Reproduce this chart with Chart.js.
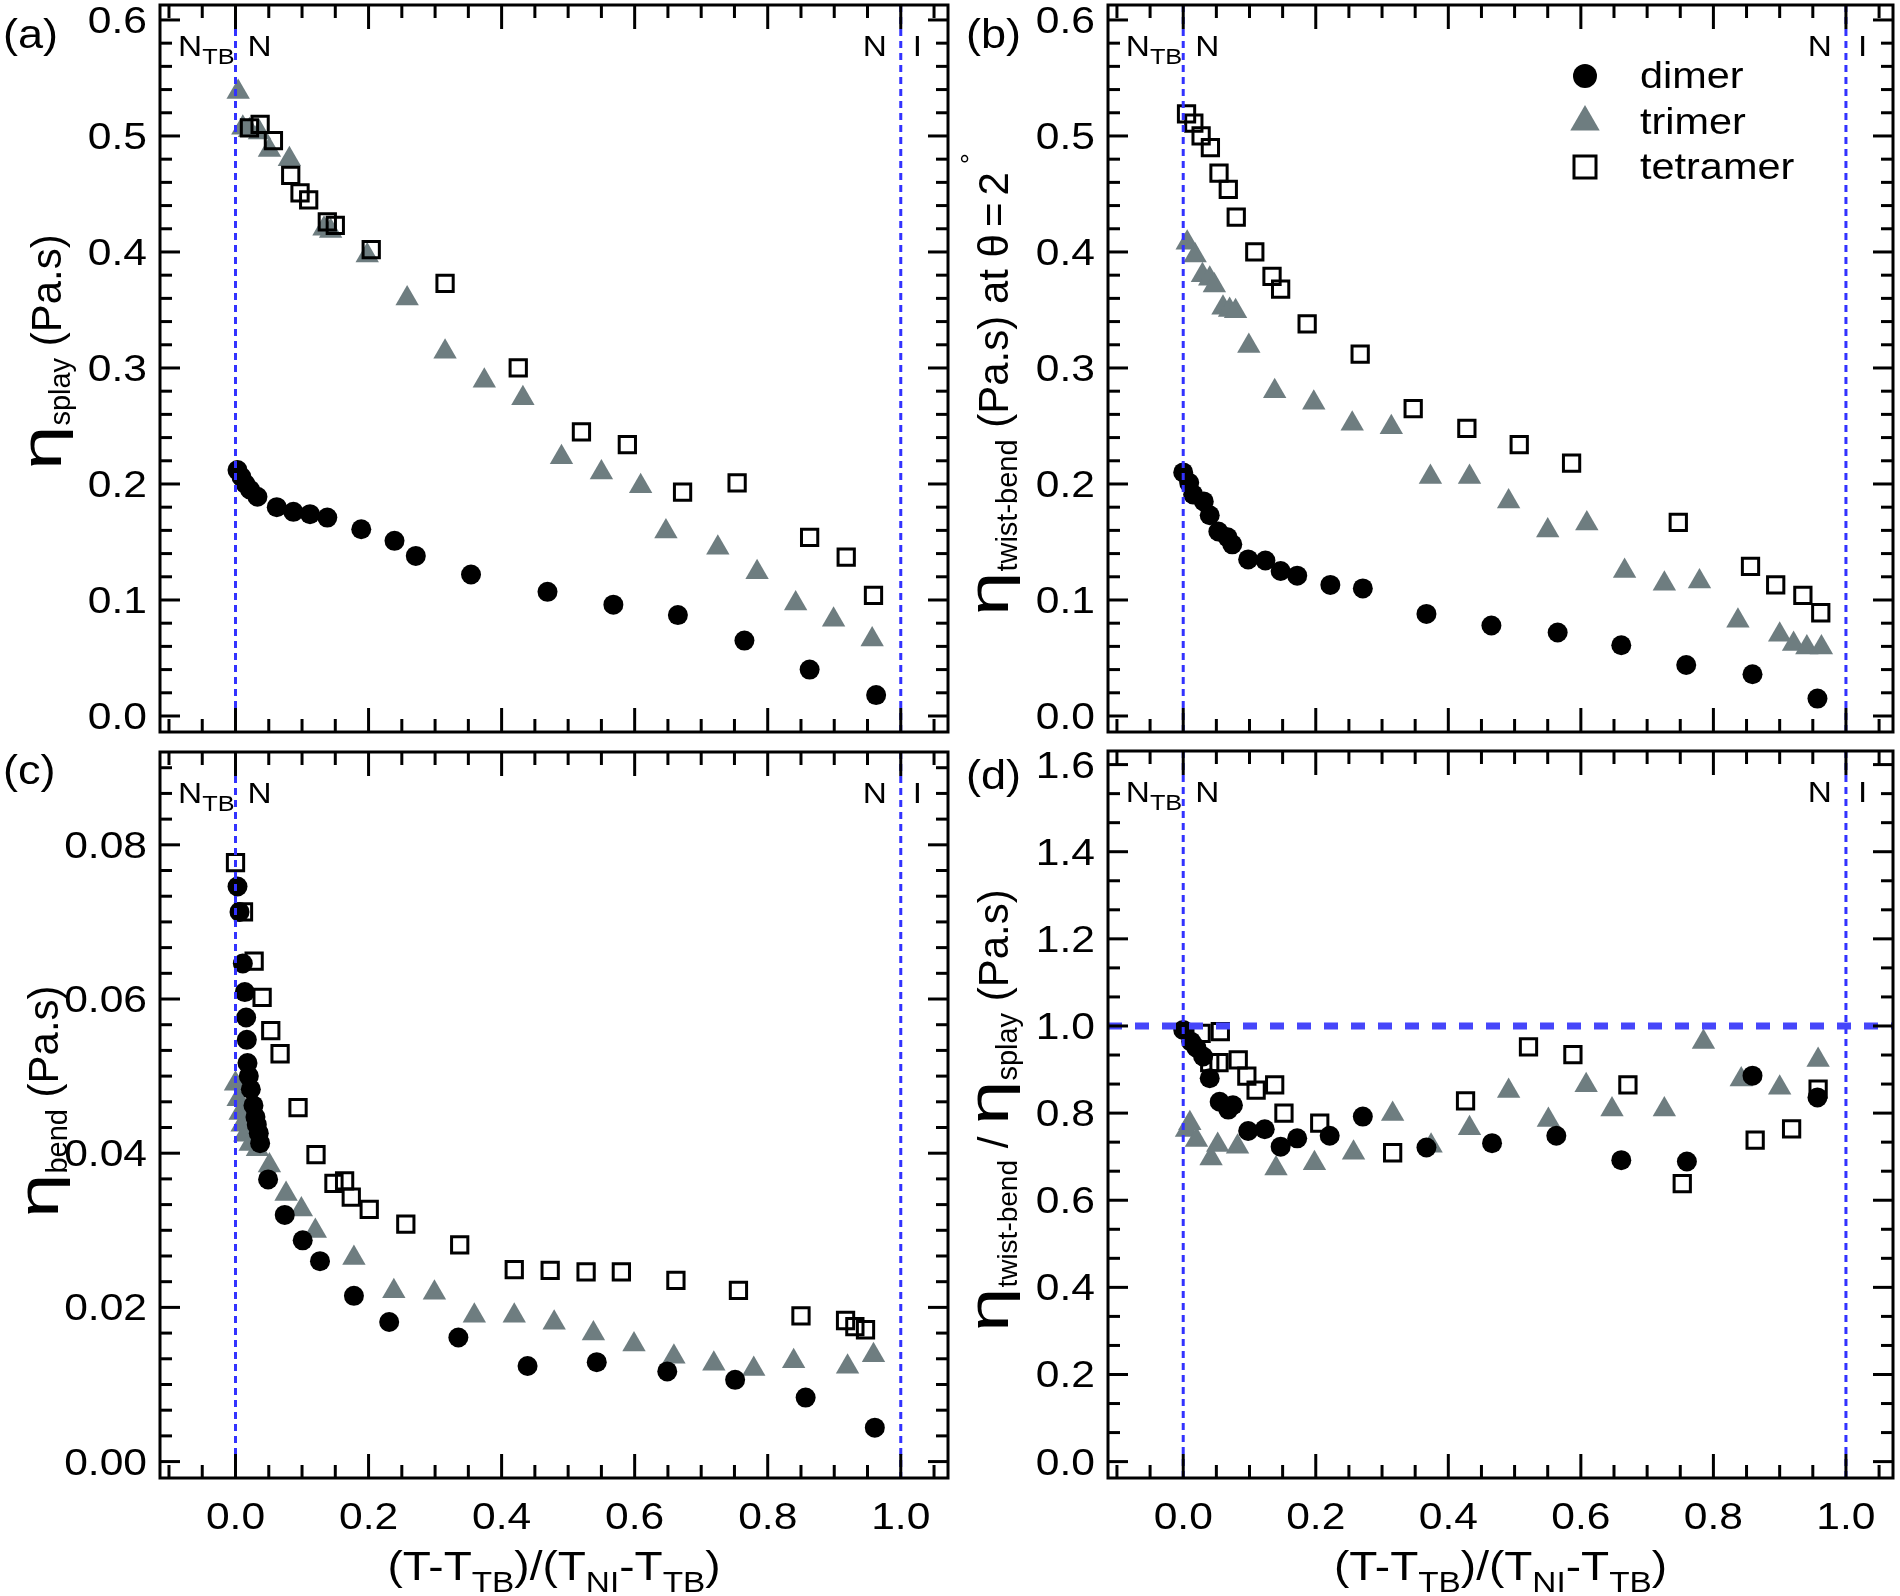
<!DOCTYPE html>
<html>
<head>
<meta charset="utf-8">
<script src="https://cdn.jsdelivr.net/npm/chart.js@4.4.1/dist/chart.umd.min.js"></script>
<style>
  html, body { margin: 0; padding: 0; background: #fff; }
  #wrap { position: relative; width: 1900px; height: 1596px; }
  #wrap canvas { position: absolute; left: 0; top: 0; }
</style>
</head>
<body>
<div id="wrap">
  <canvas id="splay" width="1900" height="1596"></canvas>
  <canvas id="twist" width="1900" height="1596"></canvas>
  <canvas id="bend" width="1900" height="1596"></canvas>
  <canvas id="ratio" width="1900" height="1596"></canvas>
</div>
<script>
var FONT = '"Liberation Sans", Arial, sans-serif';
var GREY = '#6e7d80';
var BLUE = 'rgb(50,50,255)';

// reduced temperature axis, shared by all four panels
var xLabels = [0, 0.2, 0.4, 0.6, 0.8, 1.0];
var seriesNames = ['dimer', 'trimer', 'tetramer'];

var splayTicks = [0, 0.1, 0.2, 0.3, 0.4, 0.5, 0.6];
var twistTicks = [0, 0.1, 0.2, 0.3, 0.4, 0.5, 0.6];
var bendTicks = [0, 0.02, 0.04, 0.06, 0.08];
var ratioTicks = [0, 0.2, 0.4, 0.6, 0.8, 1.0, 1.2, 1.4, 1.6];

// (a) splay viscosity
var splayDimer = [[0.003,0.212],[0.009,0.206],[0.015,0.200],[0.022,0.195],[0.033,0.189],[0.062,0.180],[0.087,0.176],[0.112,0.174],[0.138,0.171],[0.189,0.161],[0.239,0.151],[0.271,0.138],[0.354,0.122],[0.469,0.107],[0.568,0.096],[0.665,0.087],[0.765,0.065],[0.863,0.040],[0.963,0.018]];
var splayTrimer = [[0.004,0.538],[0.011,0.507],[0.021,0.505],[0.036,0.503],[0.051,0.488],[0.081,0.480],[0.133,0.420],[0.143,0.418],[0.198,0.397],[0.258,0.360],[0.315,0.314],[0.374,0.289],[0.432,0.274],[0.490,0.223],[0.550,0.210],[0.609,0.198],[0.647,0.159],[0.725,0.145],[0.784,0.124],[0.842,0.097],[0.899,0.083],[0.957,0.066]];
var splayTetramer = [[0.021,0.507],[0.037,0.510],[0.057,0.496],[0.083,0.466],[0.097,0.451],[0.110,0.445],[0.138,0.426],[0.150,0.423],[0.204,0.402],[0.315,0.373],[0.425,0.300],[0.520,0.245],[0.589,0.234],[0.672,0.193],[0.754,0.201],[0.863,0.154],[0.918,0.137],[0.959,0.104]];

// (b) twist-bend viscosity at theta = 2 deg
var twistDimer = [[0.000,0.210],[0.009,0.201],[0.015,0.191],[0.031,0.185],[0.040,0.173],[0.053,0.159],[0.067,0.154],[0.074,0.148],[0.098,0.135],[0.124,0.134],[0.147,0.125],[0.172,0.121],[0.222,0.113],[0.271,0.110],[0.367,0.088],[0.465,0.078],[0.565,0.072],[0.661,0.061],[0.759,0.044],[0.859,0.036],[0.957,0.015]];
var twistTrimer = [[0.006,0.408],[0.018,0.397],[0.029,0.380],[0.040,0.377],[0.047,0.371],[0.060,0.352],[0.070,0.350],[0.079,0.349],[0.099,0.319],[0.138,0.280],[0.197,0.270],[0.255,0.252],[0.314,0.249],[0.373,0.206],[0.432,0.206],[0.491,0.185],[0.550,0.160],[0.609,0.166],[0.666,0.125],[0.726,0.114],[0.779,0.116],[0.837,0.082],[0.900,0.070],[0.921,0.062],[0.941,0.059],[0.963,0.059]];
var twistTetramer = [[0.005,0.519],[0.016,0.511],[0.027,0.500],[0.041,0.490],[0.054,0.468],[0.068,0.454],[0.080,0.430],[0.108,0.400],[0.134,0.379],[0.147,0.368],[0.187,0.338],[0.267,0.312],[0.347,0.265],[0.428,0.248],[0.507,0.234],[0.586,0.218],[0.747,0.167],[0.856,0.129],[0.894,0.113],[0.935,0.104],[0.962,0.089]];

// (c) bend viscosity
var bendDimer = [[0.003,0.0746],[0.006,0.0713],[0.011,0.0646],[0.014,0.0609],[0.016,0.0576],[0.017,0.0547],[0.018,0.0517],[0.020,0.0500],[0.023,0.0483],[0.027,0.0462],[0.030,0.0447],[0.032,0.0437],[0.035,0.0426],[0.037,0.0413],[0.049,0.0366],[0.074,0.0320],[0.101,0.0287],[0.127,0.0260],[0.178,0.0215],[0.231,0.0181],[0.335,0.0161],[0.439,0.0124],[0.543,0.0129],[0.649,0.0117],[0.751,0.0106],[0.857,0.0083],[0.961,0.0044]];
var bendTrimer = [[0.000,0.0490],[0.004,0.0470],[0.007,0.0452],[0.010,0.0437],[0.014,0.0424],[0.022,0.0412],[0.033,0.0405],[0.051,0.0384],[0.076,0.0347],[0.099,0.0327],[0.120,0.0299],[0.178,0.0264],[0.238,0.0221],[0.299,0.0219],[0.359,0.0189],[0.419,0.0189],[0.479,0.0180],[0.538,0.0166],[0.599,0.0152],[0.659,0.0136],[0.719,0.0127],[0.779,0.0120],[0.839,0.0130],[0.920,0.0123],[0.959,0.0138]];
var bendTetramer = [[0.000,0.0777],[0.012,0.0713],[0.028,0.0649],[0.040,0.0602],[0.053,0.0559],[0.067,0.0529],[0.094,0.0459],[0.121,0.0398],[0.148,0.0361],[0.164,0.0364],[0.174,0.0343],[0.201,0.0327],[0.256,0.0308],[0.337,0.0281],[0.419,0.0249],[0.473,0.0248],[0.527,0.0246],[0.580,0.0246],[0.662,0.0235],[0.756,0.0222],[0.850,0.0189],[0.917,0.0183],[0.931,0.0175],[0.947,0.0171]];

// (d) ratio twist-bend / splay
var ratioDimer = [[0.000,0.991],[0.012,0.964],[0.020,0.950],[0.030,0.930],[0.040,0.880],[0.055,0.826],[0.068,0.808],[0.075,0.818],[0.098,0.759],[0.123,0.763],[0.147,0.723],[0.172,0.742],[0.221,0.748],[0.271,0.792],[0.367,0.721],[0.466,0.731],[0.563,0.748],[0.661,0.692],[0.760,0.689],[0.859,0.886],[0.957,0.836]];
var ratioTrimer = [[0.005,0.761],[0.010,0.777],[0.020,0.738],[0.042,0.696],[0.052,0.727],[0.082,0.723],[0.140,0.673],[0.198,0.685],[0.257,0.709],[0.316,0.798],[0.374,0.725],[0.432,0.765],[0.491,0.851],[0.551,0.784],[0.608,0.864],[0.647,0.808],[0.726,0.808],[0.785,0.963],[0.842,0.877],[0.900,0.858],[0.958,0.922]];
var ratioTetramer = [[0.027,0.983],[0.056,0.987],[0.040,0.916],[0.054,0.916],[0.083,0.922],[0.096,0.885],[0.110,0.853],[0.138,0.865],[0.152,0.800],[0.206,0.777],[0.316,0.709],[0.426,0.828],[0.521,0.952],[0.588,0.934],[0.671,0.865],[0.753,0.638],[0.863,0.738],[0.918,0.764],[0.958,0.855]];

var ETA = { t: 'η', size: 57, sx: 1.4 };

var panels = {
  splay: {
    letter: '(a)', letterPos: [3, 48],
    area: { left: 160, top: 5, right: 948, bottom: 732 },
    yMin: -0.0138, yMax: 0.6129, yTicks: splayTicks, yDigits: 1, yStep: 0.02, yRatio: 5,
    series: [splayDimer, splayTrimer, splayTetramer],
    title: [ETA, { t: 'splay', size: 29, dy: 9 }, { t: ' (Pa.s)', size: 42 }], titlePos: [61, 470]
  },
  twist: {
    letter: '(b)', letterPos: [966, 48],
    area: { left: 1108, top: 5, right: 1893, bottom: 732 },
    yMin: -0.0138, yMax: 0.6129, yTicks: twistTicks, yDigits: 1, yStep: 0.02, yRatio: 5,
    series: [twistDimer, twistTrimer, twistTetramer],
    title: [ETA, { t: 'twist-bend', size: 29, dy: 9 }, { t: ' (Pa.s) at ', size: 42 },
            { t: 'θ', size: 42, gap: 7 }, { t: '=', size: 42, gap: 7 }, { t: '2', size: 42 },
            { t: '°', size: 28, dy: -28, dx: 8 }],
    titlePos: [1008, 616], legend: true
  },
  bend: {
    letter: '(c)', letterPos: [3, 784],
    area: { left: 160, top: 752, right: 948, bottom: 1478 },
    yMin: -0.00213, yMax: 0.09204, yTicks: bendTicks, yDigits: 2, yStep: 0.02 / 6, yRatio: 6,
    series: [bendDimer, bendTrimer, bendTetramer],
    title: [ETA, { t: 'bend', size: 29, dy: 9 }, { t: ' (Pa.s)', size: 42 }], titlePos: [58, 1218],
    xAxis: true
  },
  ratio: {
    letter: '(d)', letterPos: [966, 789],
    area: { left: 1108, top: 751, right: 1893, bottom: 1478 },
    yMin: -0.0376, yMax: 1.6312, yTicks: ratioTicks, yDigits: 1, yStep: 0.2 / 3, yRatio: 3,
    series: [ratioDimer, ratioTrimer, ratioTetramer],
    title: [ETA, { t: 'twist-bend', size: 28, dy: 9 }, { t: ' / ', size: 42 }, ETA,
            { t: 'splay', size: 29, dy: 9 }, { t: ' (Pa.s)', size: 42 }],
    titlePos: [1008, 1332], xAxis: true, refLine: 1.0
  }
};

// text with sub/superscripts, optionally rotated and stretched
function drawRich(ctx, parts, x, y, opt) {
  opt = opt || {};
  ctx.save();
  ctx.translate(x, y);
  if (opt.rotate) ctx.rotate(opt.rotate);
  ctx.scale(opt.sx || 1, 1);
  ctx.textAlign = 'left';
  ctx.textBaseline = 'alphabetic';
  ctx.fillStyle = '#000';
  var total = 0;
  var widths = parts.map(function (p) {
    ctx.font = p.size + 'px ' + FONT;
    var w = p.t === '°' ? 0 : ctx.measureText(p.t).width * (p.sx || 1) + (p.gap || 0);
    total += w;
    return w;
  });
  var cx = opt.align === 'right' ? -total : (opt.align === 'center' ? -total / 2 : 0);
  parts.forEach(function (p, i) {
    ctx.font = p.size + 'px ' + FONT;
    ctx.save();
    ctx.translate(cx + (p.dx || 0), p.dy || 0);
    ctx.scale(p.sx || 1, 1);
    ctx.fillText(p.t, 0, 0);
    ctx.restore();
    cx += widths[i];
  });
  ctx.restore();
}

function line(ctx, x1, y1, x2, y2) {
  ctx.beginPath();
  ctx.moveTo(x1, y1);
  ctx.lineTo(x2, y2);
  ctx.stroke();
}

var decorPlugin = {
  id: 'decor',
  afterDatasetsDraw: function (chart) {
    var p = panels[chart.canvas.id];
    var ctx = chart.ctx, a = chart.chartArea;
    var xs = chart.scales.x, ys = chart.scales.y;
    var i, px, py, len;
    ctx.save();

    // N_TB / N and N / I boundaries
    ctx.strokeStyle = BLUE;
    ctx.lineWidth = 3;
    ctx.setLineDash([7, 5]);
    [0, 1].forEach(function (b) {
      var bx = xs.getPixelForValue(b);
      line(ctx, bx, a.top, bx, a.bottom);
    });
    if (p.refLine !== undefined) {
      ctx.strokeStyle = 'rgb(70,70,250)';
      ctx.lineWidth = 7;
      ctx.setLineDash([14, 13]);
      py = ys.getPixelForValue(p.refLine);
      line(ctx, a.left, py, a.right, py);
    }
    ctx.setLineDash([]);

    // frame and inward ticks on all sides
    ctx.strokeStyle = '#000';
    ctx.lineWidth = 3;
    ctx.strokeRect(a.left, a.top, a.right - a.left, a.bottom - a.top);
    for (i = Math.ceil(xs.min / 0.05 - 1e-6); i <= Math.floor(xs.max / 0.05 + 1e-6); i++) {
      px = xs.getPixelForValue(i * 0.05);
      len = (i % 4 === 0) ? 24 : 13;
      line(ctx, px, a.bottom, px, a.bottom - len);
      line(ctx, px, a.top, px, a.top + len);
    }
    for (i = Math.ceil(ys.min / p.yStep - 1e-6); i <= Math.floor(ys.max / p.yStep + 1e-6); i++) {
      py = ys.getPixelForValue(i * p.yStep);
      len = (i % p.yRatio === 0) ? 20 : 12;
      line(ctx, a.left, py, a.left + len, py);
      line(ctx, a.right, py, a.right - len, py);
    }

    // tick labels
    p.yTicks.forEach(function (t) {
      drawRich(ctx, [{ t: t.toFixed(p.yDigits), size: 37 }], a.left - 13, ys.getPixelForValue(t) + 13, { align: 'right', sx: 1.15 });
    });
    if (p.xAxis) {
      xLabels.forEach(function (t) {
        drawRich(ctx, [{ t: t.toFixed(1), size: 37 }], xs.getPixelForValue(t), 1529, { align: 'center', sx: 1.15 });
      });
      drawRich(ctx, [
        { t: '(T-T', size: 40 }, { t: 'TB', size: 29, dy: 12 }, { t: ')/(T', size: 40 },
        { t: 'NI', size: 29, dy: 12 }, { t: '-T', size: 40 }, { t: 'TB', size: 29, dy: 12 }, { t: ')', size: 40 }
      ], (a.left + a.right) / 2, 1580, { align: 'center', sx: 1.15 });
    }

    // axis title and panel letter
    drawRich(ctx, p.title, p.titlePos[0], p.titlePos[1], { rotate: -Math.PI / 2 });
    drawRich(ctx, [{ t: p.letter, size: 41 }], p.letterPos[0], p.letterPos[1], { sx: 1.1 });

    // phase labels
    var x0 = xs.getPixelForValue(0), x1 = xs.getPixelForValue(1), by = a.top + 51;
    drawRich(ctx, [{ t: 'N', size: 29 }, { t: 'TB', size: 22, dy: 8 }], x0 - 1, by, { align: 'right', sx: 1.15 });
    drawRich(ctx, [{ t: 'N', size: 29 }], x0 + 12, by, { sx: 1.15 });
    drawRich(ctx, [{ t: 'N', size: 29 }], x1 - 14, by, { align: 'right', sx: 1.15 });
    drawRich(ctx, [{ t: 'I', size: 29 }], x1 + 12, by, { sx: 1.15 });

    // legend
    if (p.legend) {
      var lx = 1585;
      ctx.fillStyle = '#000';
      ctx.beginPath();
      ctx.arc(lx, 76, 12, 0, Math.PI * 2);
      ctx.fill();
      ctx.fillStyle = GREY;
      ctx.beginPath();
      ctx.moveTo(lx, 122 - 17);
      ctx.lineTo(lx + 17 * Math.sqrt(3) / 2, 122 + 8.5);
      ctx.lineTo(lx - 17 * Math.sqrt(3) / 2, 122 + 8.5);
      ctx.closePath();
      ctx.fill();
      ctx.strokeStyle = '#000';
      ctx.lineWidth = 3;
      ctx.strokeRect(lx - 11, 167 - 11, 22, 22);
      [88, 134, 179].forEach(function (ly, k) {
        drawRich(ctx, [{ t: seriesNames[k], size: 37 }], 1640, ly, { sx: 1.12 });
      });
    }
    ctx.restore();
  }
};

function toPoints(arr) {
  return arr.map(function (d) { return { x: d[0], y: d[1] }; });
}

Object.keys(panels).forEach(function (id) {
  var p = panels[id];
  new Chart(document.getElementById(id), {
    type: 'scatter',
    data: {
      datasets: [
        { label: seriesNames[0], data: toPoints(p.series[0]), order: 0, pointStyle: 'circle', pointRadius: 10,
          pointBackgroundColor: '#000', pointBorderColor: '#000', pointBorderWidth: 0 },
        { label: seriesNames[1], data: toPoints(p.series[1]), order: 2, pointStyle: 'triangle', pointRadius: 13.5,
          pointBackgroundColor: GREY, pointBorderColor: GREY, pointBorderWidth: 0 },
        { label: seriesNames[2], data: toPoints(p.series[2]), order: 1, pointStyle: 'rect', pointRadius: 11.5,
          pointBackgroundColor: 'rgba(0,0,0,0)', pointBorderColor: '#000', pointBorderWidth: 3 }
      ]
    },
    options: {
      responsive: false,
      animation: false,
      devicePixelRatio: 1,
      events: [],
      layout: {
        autoPadding: false,
        padding: { left: p.area.left, top: p.area.top, right: 1900 - p.area.right, bottom: 1596 - p.area.bottom }
      },
      plugins: { legend: { display: false }, tooltip: { enabled: false } },
      scales: {
        x: { type: 'linear', display: false, min: -0.1135, max: 1.071 },
        y: { type: 'linear', display: false, min: p.yMin, max: p.yMax }
      }
    },
    plugins: [decorPlugin]
  });
});
</script>
</body>
</html>
